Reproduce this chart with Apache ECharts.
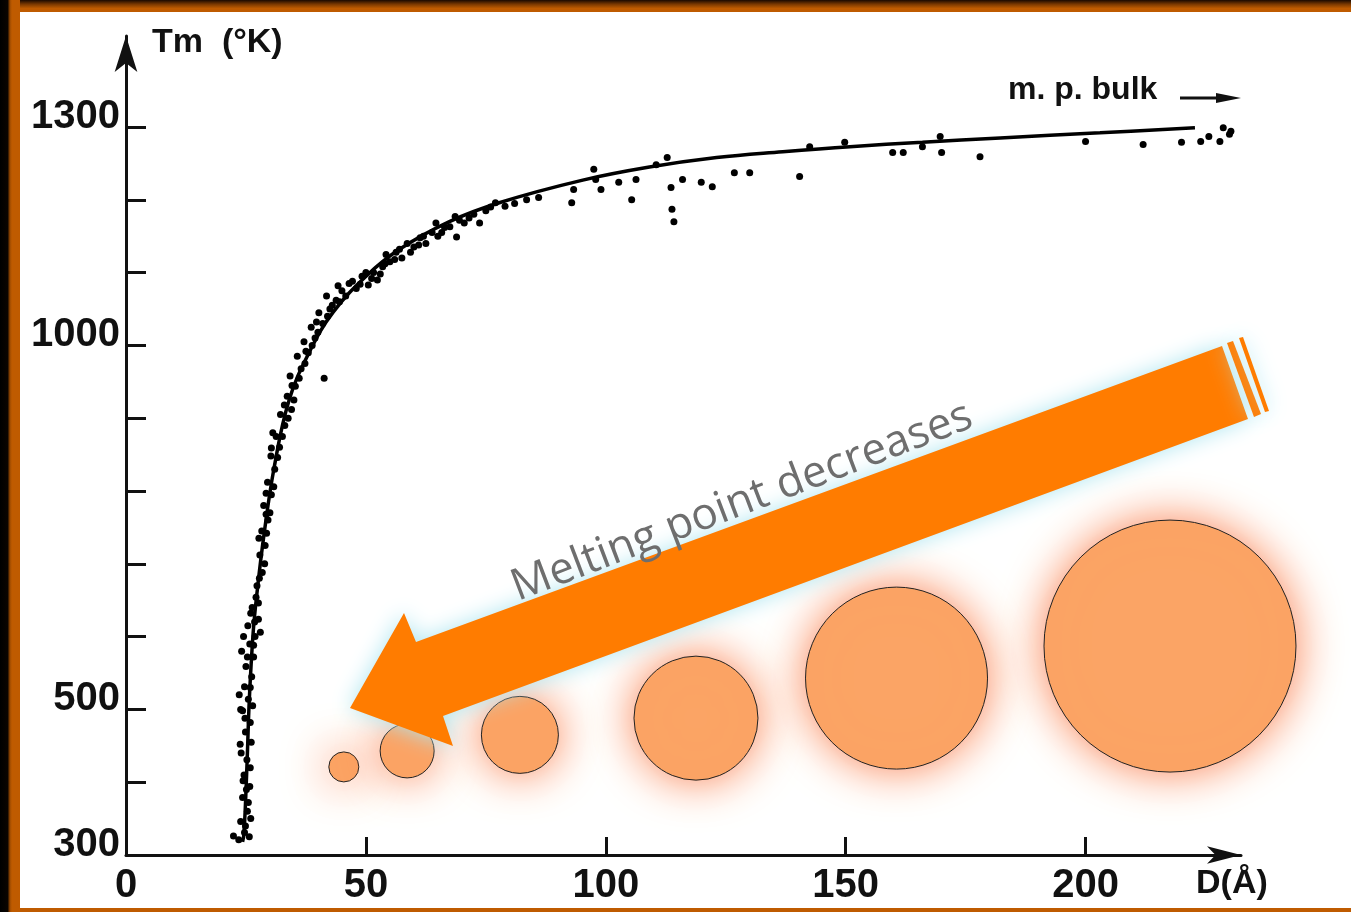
<!DOCTYPE html>
<html><head><meta charset="utf-8">
<script src="https://cdn.jsdelivr.net/npm/echarts@6/dist/echarts.min.js"></script>
<style>html,body{margin:0;padding:0;background:#fff;}#c{width:1351px;height:912px;}</style>
</head><body><div id="c"></div>
<script>
// ---- data ----
const xTickValues = [50, 100, 150, 200];
const xTickLabels = [0, 50, 100, 150, 200];
const yTickValues = [300, 400, 500, 600, 700, 800, 900, 1000, 1100, 1200, 1300];
const yTickLabels = [300, 500, 1000, 1300];

// fitted curve Tm(D)
const fitD = [24.3, 24.6, 25.2, 25.7, 26.5, 27.3, 28.8, 30.9, 34.0, 38.3, 43.1, 50.2, 57.0, 67.4, 77.8, 95.2, 109.1, 123.1, 136.9, 150.9, 166.0, 182.2, 203.0, 222.8];
const fitT = [318, 330, 421, 513, 605, 660, 742, 833, 925, 992, 1045, 1096, 1132, 1170, 1196, 1227, 1245, 1258, 1266, 1273, 1279, 1285, 1292, 1299];

// measured points [D, Tm]
const measuredLow = [[22.4,326],[23.5,321],[24.7,331],[25.7,325],[23.9,346],[25.3,360],[24.3,379],[25.8,394],[24.6,410],[25.2,431],[23.8,452],[24.9,469],[25.9,482],[24.3,498],[25.5,514],[24.7,531],[26.2,545],[25.0,559],[26.6,572],[24.1,580],[25.8,590],[26.9,600],[25.4,615],[27.6,624],[26.3,640],[27.1,654],[28.0,606],[23.6,520],[26.4,505],[24.0,440],[26.1,455],[25.1,390],[26.0,350],[24.5,600],[26.8,620],
  [24.9,340],[25.5,372],[24.4,402],[25.9,420],[24.8,488],[25.9,530],[25.3,572],[26.6,588],[26.0,632],[27.6,646],[23.9,500]];
const measuredMid = [[27.3,670],[28.4,688],[27.9,712],[29.0,725],[28.3,745],[29.6,760],[28.7,780],[29.2,797],[30.3,795],[29.5,812],[31.0,830],[30.2,848],[30.3,859],[32.0,860],[31.3,875],[33.1,890],[32.2,905],[34.5,912],[33.6,930],[35.3,944],[34.2,958],[36.5,968],[35.7,985],[38.0,990],[41.3,955],[37.1,1005],[39.4,1010],[38.6,1025],[41.0,1030],[40.2,1045],[42.5,1050],[43.8,1062],[41.8,1068],[45.0,1075],[44.2,1082],
  [27.8,680],[28.9,700],[27.7,735],[29.3,742],[30.0,770],[29.2,768],[30.8,806],[31.6,846],[30.6,880],[32.6,875],[33.8,900],[33.0,918],[35.0,925],[34.6,945],[36.1,955],[37.3,975],[37.5,992],[38.8,1000],[40.0,1018],[39.7,1032],[42.0,1040],[43.0,1055],[44.5,1060]];
const measuredUpper = [[46.5,1085],[48.0,1078],[49.2,1095],[50.5,1083],[51.6,1100],[52.4,1090],[53.5,1108],[55.0,1115],[54.2,1125],[56.3,1128],[57.5,1120],[58.6,1140],[60.0,1135],[61.3,1148],[62.5,1140],[63.8,1155],[65.0,1150],[66.4,1162],[64.6,1168],[68.9,1149],[68.6,1177],[70.5,1168],[73.7,1168],[75.0,1185],[79.0,1191],[83.5,1200],[77.0,1196],[86.0,1203],
  [45.8,1068],[47.2,1088],[48.8,1084],[50.0,1100],[51.2,1092],[53.0,1098],[54.0,1112],[56.0,1118],[57.0,1132],[59.3,1128],[61.0,1138],[62.0,1150],[65.8,1155],[67.5,1163],[69.5,1172],[71.5,1175],[72.5,1180],[76.0,1190],[81.0,1195]];
const measuredTail = [[92.9,1196],[93.3,1214],[97.5,1242],[97.9,1228],[99.0,1214],[102.7,1224],[105.4,1200],[106.3,1228],[110.5,1248],[112.8,1258],[113.6,1217],[116.0,1228],[113.8,1187],[114.2,1170],[119.9,1224],[122.2,1218],[126.8,1237],[130.0,1237],[140.4,1232],[142.5,1273],[149.8,1279],[159.8,1265],[162,1265],[166,1273],[169.7,1287],[170,1265],[178,1259],[200,1280],[212,1276],[220,1279],[224,1280],[225.7,1287],[228,1280],[228.7,1299],[230.3,1294],[230,1290]];

// illustrative particles (position in data space)
const particleD = [45.4, 58.6, 82.1, 118.8, 160.6, 217.6];
const particleT = [421, 443, 465, 488, 543, 587];

// ---- styles ----
const particleDiameters = [30, 54, 77, 124, 182, 252];
const FONT = 'Liberation Sans, Arial, sans-serif';
const INK = '#111';

const chart = echarts.init(document.getElementById('c'), null, {renderer: 'canvas'});
const fitData = fitD.map((d, i) => [d, fitT[i]]);
const measured = measuredLow.concat(measuredMid, measuredUpper, measuredTail);
const particles = particleD.map((d, i) => [d, particleT[i]]);

const frameOrange = '#bf5b00';
function poly(points, z) {
  return {type: 'polygon', z: z, shape: {points: points},
    style: {fill: '#ff7c00', shadowBlur: 22, shadowColor: 'rgba(175,230,240,1)'}};
}

chart.setOption({
  animation: false,
  backgroundColor: '#fff',
  grid: {left: 126, right: 110, top: 36, bottom: 57},
  xAxis: {
    type: 'value', min: 0, max: 232.4,
    splitLine: {show: false},
    axisLine: {onZero: false, symbol: ['none', 'arrow'], symbolSize: [13, 34], lineStyle: {color: INK, width: 3}},
    axisTick: {show: true, inside: true, length: 18, customValues: xTickValues, lineStyle: {color: INK, width: 3}},
    axisLabel: {customValues: xTickLabels, formatter: v => String(v), fontFamily: FONT, fontWeight: 'bold', fontSize: 40, color: INK, margin: 11}
  },
  yAxis: {
    type: 'value', min: 300, max: 1425,
    splitLine: {show: false},
    axisLine: {onZero: false, symbol: ['none', 'arrow'], symbolSize: [17, 36], lineStyle: {color: INK, width: 3}},
    axisTick: {show: true, inside: true, length: 20, customValues: yTickValues, lineStyle: {color: INK, width: 3}},
    axisLabel: {customValues: yTickLabels, formatter: v => String(v), fontFamily: FONT, fontWeight: 'bold', fontSize: 40, color: INK, margin: 6, verticalAlign: 'bottom', lineHeight: 20}
  },
  series: [
    {type: 'scatter', name: 'particles', data: particles, z: 1,
     symbolSize: (v, p) => particleDiameters[p.dataIndex],
     itemStyle: {color: '#fba465', opacity: 1, borderColor: '#222', borderWidth: 1, shadowBlur: 46, shadowColor: 'rgba(250,130,80,1)'}},
    {type: 'line', name: 'fit', data: fitData, smooth: 0.4, showSymbol: false, z: 3,
     lineStyle: {color: '#000', width: 3.5}},
    {type: 'scatter', name: 'measured', data: measured, symbolSize: 7, z: 4,
     itemStyle: {color: '#000', opacity: 1}}
  ],
  graphic: [
    {type: 'rect', z: 200, shape: {x: 0, y: 0, width: 1351, height: 12},
     style: {fill: new echarts.graphic.LinearGradient(0, 0, 0, 1, [{offset: 0, color: '#1a0900'}, {offset: 0.35, color: '#7a3800'}, {offset: 0.7, color: frameOrange}, {offset: 1, color: frameOrange}])}},
    {type: 'rect', z: 200, shape: {x: 0, y: 908, width: 1351, height: 4}, style: {fill: frameOrange}},
    {type: 'rect', z: 201, shape: {x: 0, y: 0, width: 20, height: 912},
     style: {fill: new echarts.graphic.LinearGradient(0, 0, 1, 0, [{offset: 0, color: '#000'}, {offset: 0.38, color: '#0a0400'}, {offset: 0.5, color: '#a04c00'}, {offset: 0.6, color: frameOrange}, {offset: 1, color: frameOrange}])}},
    {type: 'text', z: 50, x: 152, y: 43, style: {text: 'Tm  (°K)', font: 'bold 34px ' + FONT, fill: INK, textAlign: 'left', textVerticalAlign: 'middle'}},
    {type: 'text', z: 50, x: 1196, y: 884, style: {text: 'D(Å)', font: 'bold 34px ' + FONT, fill: INK, textAlign: 'left', textVerticalAlign: 'middle'}},
    {type: 'text', z: 50, x: 1008, y: 90, style: {text: 'm. p. bulk', font: 'bold 32px ' + FONT, fill: INK, textAlign: 'left', textVerticalAlign: 'middle'}},
    {type: 'line', z: 50, shape: {x1: 1180, y1: 98, x2: 1225, y2: 98}, style: {stroke: INK, lineWidth: 3}},
    {type: 'polygon', z: 50, shape: {points: [[1216, 93], [1241, 98], [1216, 103]]}, style: {fill: INK}},
    poly([[350, 708], [404, 613], [416, 642], [1222, 346], [1248, 419], [443, 716], [453, 746]], 60),
    poly([[1227, 343], [1233, 341], [1261, 414], [1254, 417]], 60),
    poly([[1239, 338], [1243, 337], [1269, 411], [1265, 412]], 60),
    {type: 'text', z: 61, x: 742, y: 502, rotation: 0.365,
     style: {text: 'Melting point decreases', font: '44px "Open Sans", Lato, sans-serif', fill: '#6e6e6e', textAlign: 'center', textVerticalAlign: 'middle'}}
  ]
});
</script></body></html>
